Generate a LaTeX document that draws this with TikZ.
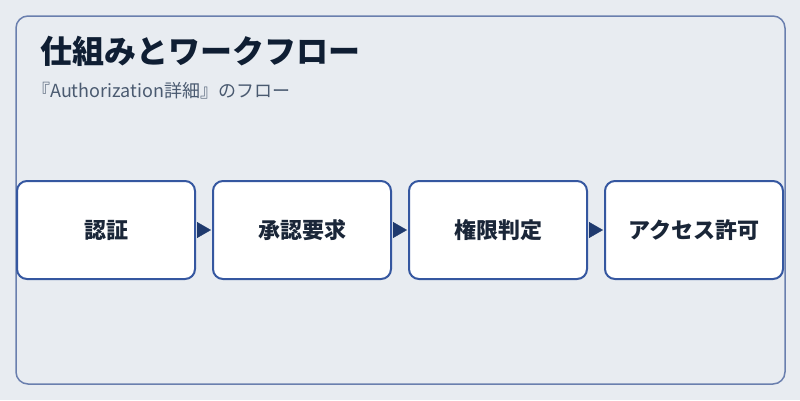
\documentclass[tikz,border=0pt]{standalone}
\usepackage{fontspec}
\setmainfont{Noto Sans CJK JP}
\usetikzlibrary{positioning,arrows.meta}
\definecolor{bgcol}{HTML}{E8ECF1}
\definecolor{framecol}{HTML}{6A7FAE}
\definecolor{boxcol}{HTML}{3557A0}
\definecolor{tipcol}{HTML}{1F3A6E}
\definecolor{titlecol}{HTML}{0F1E33}
\definecolor{subcol}{HTML}{4A5A70}
\definecolor{textcol}{HTML}{1A2638}
\tikzset{
	stage/.style={draw=boxcol,line width=2,fill=white,rounded corners=10,
		minimum width=178,minimum height=98,inner sep=0,
		font=\fontsize{22}{22}\selectfont\bfseries,text=textcol},
	flow/.style={draw=tipcol,fill=tipcol,line width=0.4,-{Triangle[length=14,width=16]},shorten <=1,shorten >=1}
}
\begin{document}
\begin{tikzpicture}[x=1pt,y=-1pt]
				\useasboundingbox[fill=bgcol] (0,0) rectangle (800,400);
				\draw [framecol,line width=1.5,rounded corners=12] (16,16) rectangle (785,384);
				\node [anchor=base west,text=titlecol,font=\fontsize{32}{32}\selectfont\bfseries,inner sep=0] (title) at (40,63) {仕組みとワークフロー};
				\node [anchor=base west,text=subcol,font=\fontsize{18}{18}\selectfont,inner sep=0] (sub) at (32,97) {『Authorization詳細』のフロー};
				\node [stage] (auth) at (106,230) {認証};
				\node [stage,right=16 of auth] (req) {承認要求};
				\node [stage,right=16 of req] (perm) {権限判定};
				\node [stage,right=16 of perm] (grant) {アクセス許可};
				\draw [flow] (auth) to (req);
				\draw [flow] (req) to (perm);
				\draw [flow] (perm) to (grant);
			\end{tikzpicture}
\end{document}
